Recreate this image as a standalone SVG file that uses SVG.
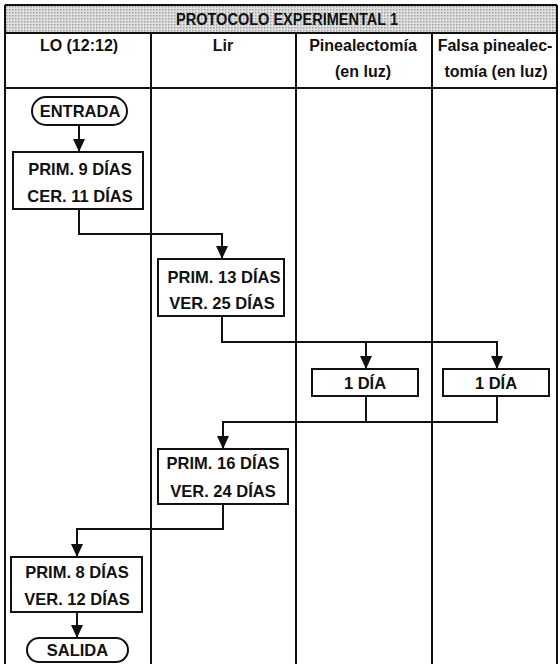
<svg xmlns="http://www.w3.org/2000/svg" width="560" height="664" viewBox="0 0 560 664">
<defs>
<pattern id="stip" width="3" height="3" patternUnits="userSpaceOnUse">
<rect width="3" height="3" fill="#e0e0e0"/>
<rect width="1.5" height="1.5" fill="#a0a0a0"/>
</pattern>
<marker id="arr" markerWidth="13" markerHeight="12" viewBox="0 0 13 12" refX="13" refY="6" orient="auto" markerUnits="userSpaceOnUse">
<path d="M0,0 L13,6 L0,12 Z" fill="#111"/>
</marker>
<style>
.grid{stroke:#111;stroke-width:2;fill:none}
.box{fill:#fff;stroke:#111;stroke-width:2}
.t{font-family:"Liberation Sans",Arial,sans-serif;font-weight:bold;fill:#111;text-anchor:middle}
.h{font-size:16px}
.b{font-size:16.5px}
.c{stroke:#111;stroke-width:2;fill:none}
.ca{stroke:#111;stroke-width:2;fill:none;marker-end:url(#arr)}
</style>
</defs>
<rect width="560" height="664" fill="#fff"/>
<g id="table">
<rect x="5" y="5" width="552" height="28" fill="url(#stip)"/>
<path class="grid" d="M5,5 H557 M5,33 H557 M5,88 H557 M5,5 V664 M557,5 V664 M151,33 V664 M296,33 V664 M432,33 V664"/>
<text class="t" x="287" y="25" font-size="16" textLength="222" lengthAdjust="spacingAndGlyphs">PROTOCOLO EXPERIMENTAL 1</text>
<text class="t h" x="79" y="51">LO (12:12)</text>
<text class="t h" x="223" y="51">Lir</text>
<text class="t h" x="363" y="51">Pinealectomía</text>
<text class="t h" x="363" y="77">(en luz)</text>
<text class="t h" x="495" y="51">Falsa pinealec-</text>
<text class="t h" x="496" y="77">tomía (en luz)</text>
</g>
<g id="connectors">
<path class="ca" d="M79,125 V152"/>
<path class="ca" d="M79,209 V234 H222 V259"/>
<path class="ca" d="M222,316 V342 H497 V369"/>
<path class="ca" d="M366,342 V369"/>
<path class="c" d="M366,396 V422"/>
<path class="ca" d="M497,396 V422 H223 V449"/>
<path class="ca" d="M223,504 V529 H77 V557"/>
<path class="ca" d="M77,612 V638"/>
</g>
<g id="entrada">
<rect class="box" x="32" y="97" width="95" height="28" rx="14"/>
<text class="t b" x="80" y="117">ENTRADA</text>
</g>
<g id="box1">
<rect class="box" x="13" y="152" width="130" height="57"/>
<text class="t b" x="80" y="175">PRIM. 9 DÍAS</text>
<text class="t b" x="80" y="202">CER. 11 DÍAS</text>
</g>
<g id="box2">
<rect class="box" x="158" y="259" width="126" height="57"/>
<text class="t b" x="224" y="283">PRIM. 13 DÍAS</text>
<text class="t b" x="222" y="309">VER. 25 DÍAS</text>
</g>
<g id="boxA">
<rect class="box" x="312" y="369" width="106" height="27"/>
<text class="t b" x="365" y="389">1 DÍA</text>
</g>
<g id="boxB">
<rect class="box" x="443" y="369" width="106" height="27"/>
<text class="t b" x="496" y="389">1 DÍA</text>
</g>
<g id="box3">
<rect class="box" x="158" y="449" width="130" height="55"/>
<text class="t b" x="223" y="469">PRIM. 16 DÍAS</text>
<text class="t b" x="223" y="497">VER. 24 DÍAS</text>
</g>
<g id="box4">
<rect class="box" x="11" y="557" width="131" height="55"/>
<text class="t b" x="77" y="578">PRIM. 8 DÍAS</text>
<text class="t b" x="77" y="605">VER. 12 DÍAS</text>
</g>
<g id="salida">
<rect class="box" x="27" y="638" width="101" height="24" rx="12"/>
<text class="t b" x="77.5" y="656">SALIDA</text>
</g>
</svg>
